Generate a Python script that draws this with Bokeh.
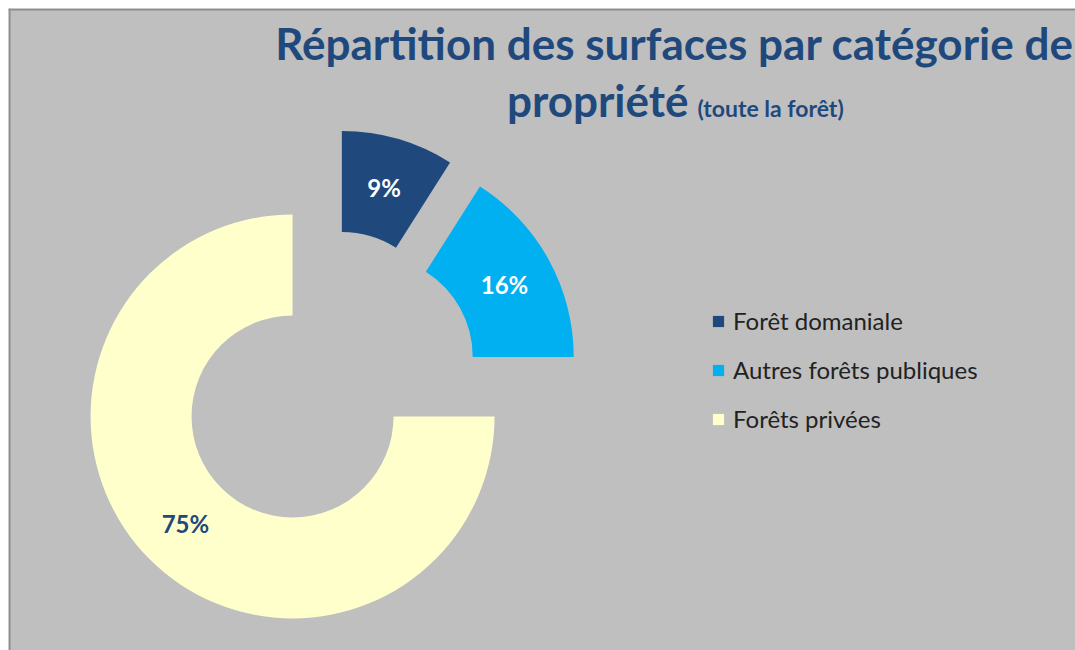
import math
from bokeh.plotting import figure
from bokeh.models import ColumnDataSource, Range1d, Legend, LegendItem, Span
from bokeh.core.properties import value
from bokeh.embed import file_html
from bokeh.resources import INLINE

# ---- data ----
categories = ["Forêt domaniale", "Autres forêts publiques", "Forêts privées"]
shares = [9, 16, 75]
pct_labels = ["9%", "16%", "75%"]
colors = ["#1F497D", "#00B0F0", "#FFFFCC"]
label_colors = ["#FFFFFF", "#FFFFFF", "#1F497D"]

# ---- layout ----
W, H = 1075, 650
M = 8
FW, FH = W - M, H - M
cx, cy = 319.4, 269.4       # pie centre (data units = pixels)
r_out, r_in = 202, 101
explode = 50
FONT = "Lato"

total = float(sum(shares))
starts, ends, xs, ys, lx, ly = [], [], [], [], [], []
acc = 0.0
for s in shares:
    a0 = acc / total * 2 * math.pi          # clockwise from 12 o'clock
    a1 = (acc + s) / total * 2 * math.pi
    acc += s
    mid = (a0 + a1) / 2
    ox = cx + explode * math.sin(mid)
    oy = cy + explode * math.cos(mid)
    xs.append(ox); ys.append(oy)
    starts.append(math.pi / 2 - a1)
    ends.append(math.pi / 2 - a0)
    rm = (r_out + r_in) / 2
    lx.append(ox + rm * math.sin(mid))
    ly.append(oy + rm * math.cos(mid))

src = ColumnDataSource(dict(x=xs, y=ys, start=starts, end=ends, color=colors,
                            cat=categories, lx=lx, ly=ly, lab=pct_labels,
                            lcol=label_colors))

p = figure(width=W, height=H, output_backend="svg", toolbar_location=None,
           x_range=Range1d(0, FW), y_range=Range1d(0, FH),
           min_border_left=M, min_border_top=M,
           min_border_right=0, min_border_bottom=0)
p.axis.visible = False
p.grid.visible = False
p.background_fill_color = "#BFBFBF"
p.border_fill_color = "#FFFFFF"
p.outline_line_color = None

# chart-area border (left and top edges)
p.add_layout(Span(location=1, dimension="height", line_color="#8C8C8C", line_width=2))
p.add_layout(Span(location=FH - 1, dimension="width", line_color="#8C8C8C", line_width=2))

wr = p.annular_wedge(x="x", y="y", inner_radius=r_in, outer_radius=r_out,
                     start_angle="start", end_angle="end", direction="anticlock",
                     fill_color="color", line_color=None, source=src)

p.text(x="lx", y="ly", text="lab", text_color="lcol", source=src,
       text_font=value(FONT), text_font_style="bold", text_font_size="24px",
       text_align="center", text_baseline="middle")

# title
p.text(x=[666], y=[608], text=["Répartition des surfaces par catégorie de"],
       text_font=value(FONT), text_font_style="bold", text_font_size="44px",
       text_color="#1F497D", text_align="center", text_baseline="middle")
p.text(x=[680], y=[551], text=["propriété"],
       text_font=value(FONT), text_font_style="bold", text_font_size="44px",
       text_color="#1F497D", text_align="right", text_baseline="middle")
p.text(x=[689], y=[543], text=["(toute la forêt)"],
       text_font=value(FONT), text_font_style="bold", text_font_size="23px",
       text_color="#1F497D", text_align="left", text_baseline="middle")

items = [LegendItem(label=c, renderers=[wr], index=i) for i, c in enumerate(categories)]
legend = Legend(items=items, location=(703, 217), orientation="vertical",
                glyph_width=14, glyph_height=14, label_standoff=8,
                label_text_font=FONT, label_text_font_size="24px",
                label_text_color="#222222", label_height=22, spacing=20,
                padding=0, margin=0, background_fill_alpha=0,
                border_line_color=None)
p.add_layout(legend, "center")

open("out.html", "w").write(file_html(p, INLINE))
